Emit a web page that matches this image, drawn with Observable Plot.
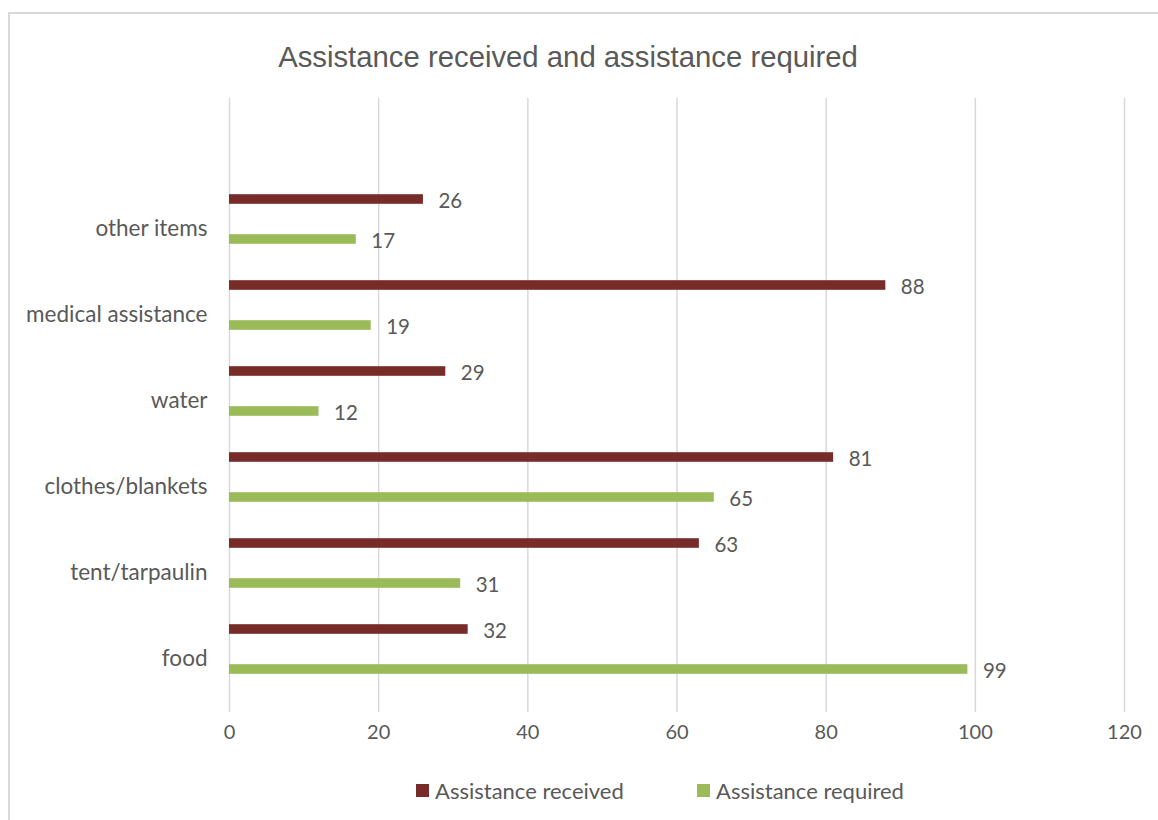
<!DOCTYPE html>
<html>
<head>
<meta charset="utf-8">
<script src="https://cdn.jsdelivr.net/npm/d3@7"></script>
<script src="https://cdn.jsdelivr.net/npm/@observablehq/plot@0.6"></script>
<style>
  html, body { margin: 0; padding: 0; background: #fff; }
  #page { position: relative; width: 1158px; height: 820px; overflow: hidden; }
  #frame { position: absolute; left: 8px; top: 12px; width: 1200px; height: 900px;
           border-left: 2px solid #d9d9d9; border-top: 2px solid #d9d9d9; box-sizing: border-box; }
  #title { position: absolute; left: 0; top: 0; width: 1136px; height: 80px; text-align: center;
           font-family: "Liberation Sans", Arial, sans-serif; font-size: 29.3px; color: #595959;
           line-height: 114px; }
  #chart { position: absolute; left: 0; top: 80px; }
  #legend { position: absolute; left: 0; top: 775px; width: 1158px; height: 30px;
            font-family: Lato, sans-serif; font-size: 22px; color: #595959; }
  .item { position: absolute; top: 0; display: flex; align-items: center; height: 30px; }
  .sw { width: 13px; height: 13px; margin-right: 6px; }
</style>
</head>
<body>
<div id="page">
  <div id="frame"></div>
  <div id="title">Assistance received and assistance required</div>
  <div id="chart"></div>
  <div id="legend"></div>
</div>
<script>
const categories = ["other items", "medical assistance", "water", "clothes/blankets", "tent/tarpaulin", "food"];
const received = [26, 88, 29, 81, 63, 32];
const required = [17, 19, 12, 65, 31, 99];
const seriesNames = ["Assistance received", "Assistance required"];
const seriesColors = ["#772C2A", "#9BBB59"];
const xTicks = [0, 20, 40, 60, 80, 100, 120];

const recData = categories.map((c, i) => ({category: c, value: received[i]}));
const reqData = categories.map((c, i) => ({category: c, value: required[i]}));

const textColor = "#595959";
const barH = 10;
const inset = (86.4 - barH) / 2;

const plot = Plot.plot({
  width: 1158,
  height: 672,
  marginTop: 18,
  marginBottom: 40,
  marginLeft: 229,
  marginRight: 34,
  style: {fontFamily: "Lato, sans-serif", fontSize: "20px", color: textColor, background: "transparent"},
  x: {domain: [0, 120], ticks: xTicks},
  y: {domain: categories, range: [104.8, 623.2], padding: 0},
  marks: [
    Plot.gridX(xTicks, {stroke: "#d9d9d9", strokeOpacity: 1, strokeWidth: 1.5}),
    Plot.axisX(xTicks, {tickSize: 0, tickPadding: 0, dy: 12, label: null, fill: textColor, fontSize: 20}),
    Plot.axisY({tickSize: 0, tickPadding: 22, label: null, fill: textColor, fontSize: 22.5, dy: -1}),
    Plot.barX(recData, {x: "value", y: "category", fill: seriesColors[0], insetTop: inset, insetBottom: inset, dy: -30}),
    Plot.barX(reqData, {x: "value", y: "category", fill: seriesColors[1], insetTop: inset, insetBottom: inset, dy: 10}),
    Plot.text(recData, {x: "value", y: "category", text: d => String(d.value), textAnchor: "start", dx: 15, dy: -28.5, fill: textColor, fontSize: 20.5}),
    Plot.text(reqData, {x: "value", y: "category", text: d => String(d.value), textAnchor: "start", dx: 15, dy: 12, fill: textColor, fontSize: 20.5})
  ]
});
document.getElementById("chart").appendChild(plot);

const legend = document.getElementById("legend");
const lefts = [416, 697];
seriesNames.forEach((name, i) => {
  const item = document.createElement("div");
  item.className = "item";
  item.style.left = lefts[i] + "px";
  const sw = document.createElement("span");
  sw.className = "sw";
  sw.style.background = seriesColors[i];
  const label = document.createElement("span");
  label.textContent = name;
  item.appendChild(sw);
  item.appendChild(label);
  legend.appendChild(item);
});
</script>
</body>
</html>
